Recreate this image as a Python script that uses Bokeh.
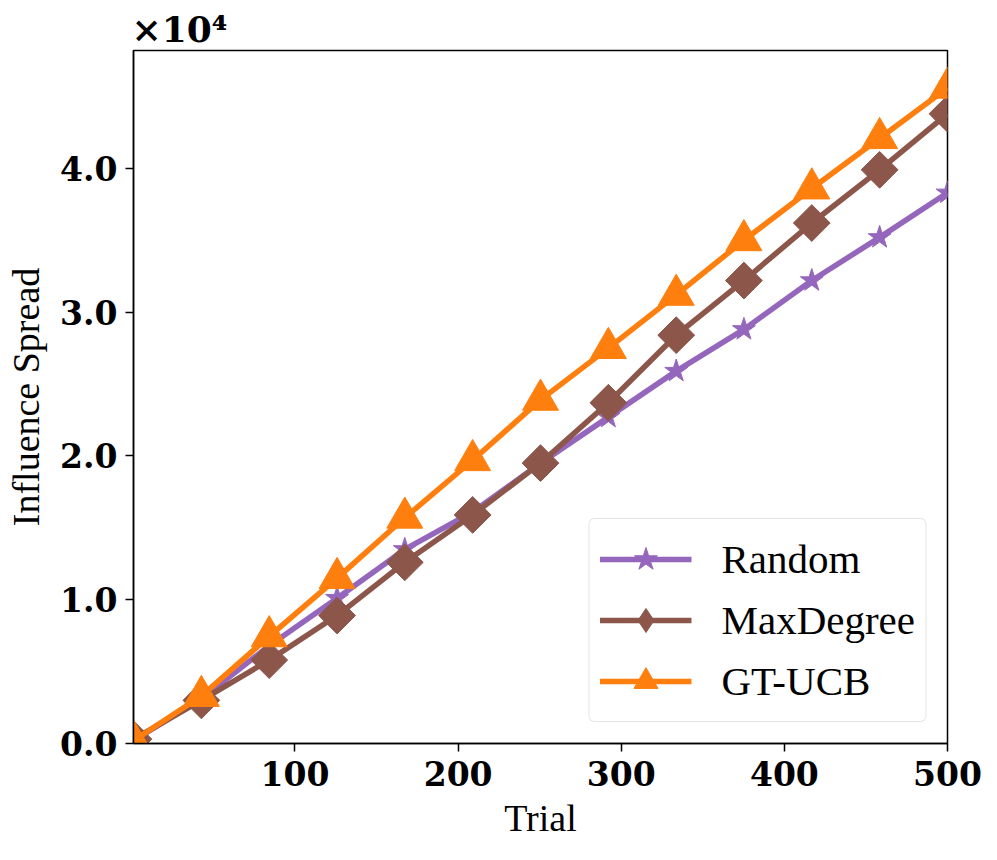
import math
from bokeh.plotting import figure
from bokeh.models import Range1d, FixedTicker, CustomJSTickFormatter, Legend
from bokeh.embed import file_html
from bokeh.resources import INLINE

trials = [1, 42.6, 84.2, 125.8, 167.3, 208.9, 250.5, 292.1, 333.7, 375.2, 416.8, 458.4, 500]
random_vals = [200, 3100, 6800, 10100, 13500, 16100, 19500, 22700, 25900, 28800, 32200, 35200, 38300]
maxdeg_vals = [300, 3000, 5800, 8900, 12600, 15900, 19500, 23700, 28400, 32200, 36200, 39900, 43800]
gtucb_vals = [200, 3300, 7450, 11500, 15700, 19700, 23900, 27500, 31200, 35000, 38600, 42100, 45600]

x_ticks = [100, 200, 300, 400, 500]
y_ticks = [0, 10000, 20000, 30000, 40000]

SERIF = "Liberation Serif"
TICKFONT = "DejaVu Serif"

p = figure(width=997, height=860, output_backend="svg", toolbar_location=None,
           x_range=Range1d(1, 500), y_range=Range1d(0, 48200),
           min_border_left=133, min_border_right=50, min_border_top=50, min_border_bottom=117)
p.background_fill_color = "white"
p.border_fill_color = "white"
p.grid.visible = False
p.outline_line_color = "black"
p.outline_line_width = 1.5

p.title.text = "×10⁴"
p.title.text_font = TICKFONT
p.title.text_font_size = "36px"
p.title.text_font_style = "bold"
p.title.text_color = "black"
p.title.align = "left"
p.title.offset = -2
p.title.standoff = 2

for ax in (p.xaxis[0], p.yaxis[0]):
    ax.major_label_text_font = TICKFONT
    ax.major_label_text_font_size = "33px"
    ax.major_label_text_font_style = "bold"
    ax.major_label_text_color = "black"
    ax.axis_label_text_font = SERIF
    ax.axis_label_text_font_size = "38px"
    ax.axis_label_text_font_style = "normal"
    ax.axis_label_text_color = "black"
    ax.axis_line_color = "black"
    ax.axis_line_width = 1.5
    ax.major_tick_line_color = "black"
    ax.major_tick_line_width = 1.5
    ax.major_tick_in = 0
    ax.major_tick_out = 8
    ax.minor_tick_line_color = None

p.xaxis.ticker = FixedTicker(ticks=x_ticks)
p.yaxis.ticker = FixedTicker(ticks=y_ticks)
p.yaxis.formatter = CustomJSTickFormatter(code="return (tick/10000).toFixed(1);")
p.xaxis.axis_label = "Trial"
p.yaxis.axis_label = "Influence Spread"
p.xaxis.major_label_standoff = 9
p.yaxis.major_label_standoff = 8
p.xaxis.axis_label_standoff = 8
p.yaxis.axis_label_standoff = 10

c_rand = "#9467bd"
c_max = "#8c564b"
c_gt = "#ff7f0e"

LW = 5.5
r1 = p.line(trials, random_vals, line_color=c_rand, line_width=LW)
s1 = p.scatter(trials, random_vals, marker="star", size=24, color=c_rand)
r2 = p.line(trials, maxdeg_vals, line_color=c_max, line_width=LW)
s2 = p.scatter(trials, maxdeg_vals, marker="square", size=26, angle=math.pi / 4, color=c_max)
r3 = p.line(trials, gtucb_vals, line_color=c_gt, line_width=LW)
s3 = p.scatter(trials, gtucb_vals, marker="triangle", size=36, color=c_gt)
# legend-only diamond icon (the legend does not rotate markers); its one point is NaN, so it draws nothing in the plot
s2_key = p.scatter([float("nan")], [float("nan")], marker="diamond", size=36, color=c_max)

legend = Legend(items=[("Random", [r1, s1]), ("MaxDegree", [r2, s2_key]), ("GT-UCB", [r3, s3])],
                location="bottom_right")
legend.label_text_font = SERIF
legend.label_text_font_size = "41px"
legend.label_text_color = "black"
legend.glyph_width = 92
legend.glyph_height = 60
legend.label_height = 60
legend.spacing = 1
legend.padding = 10
legend.margin = 21
legend.label_standoff = 30
legend.border_line_color = "#cccccc"
legend.border_line_width = 1.5
legend.background_fill_alpha = 0.8
if "border_radius" in Legend.properties():
    legend.border_radius = 6
p.add_layout(legend)

open("out.html", "w").write(file_html(p, INLINE))
